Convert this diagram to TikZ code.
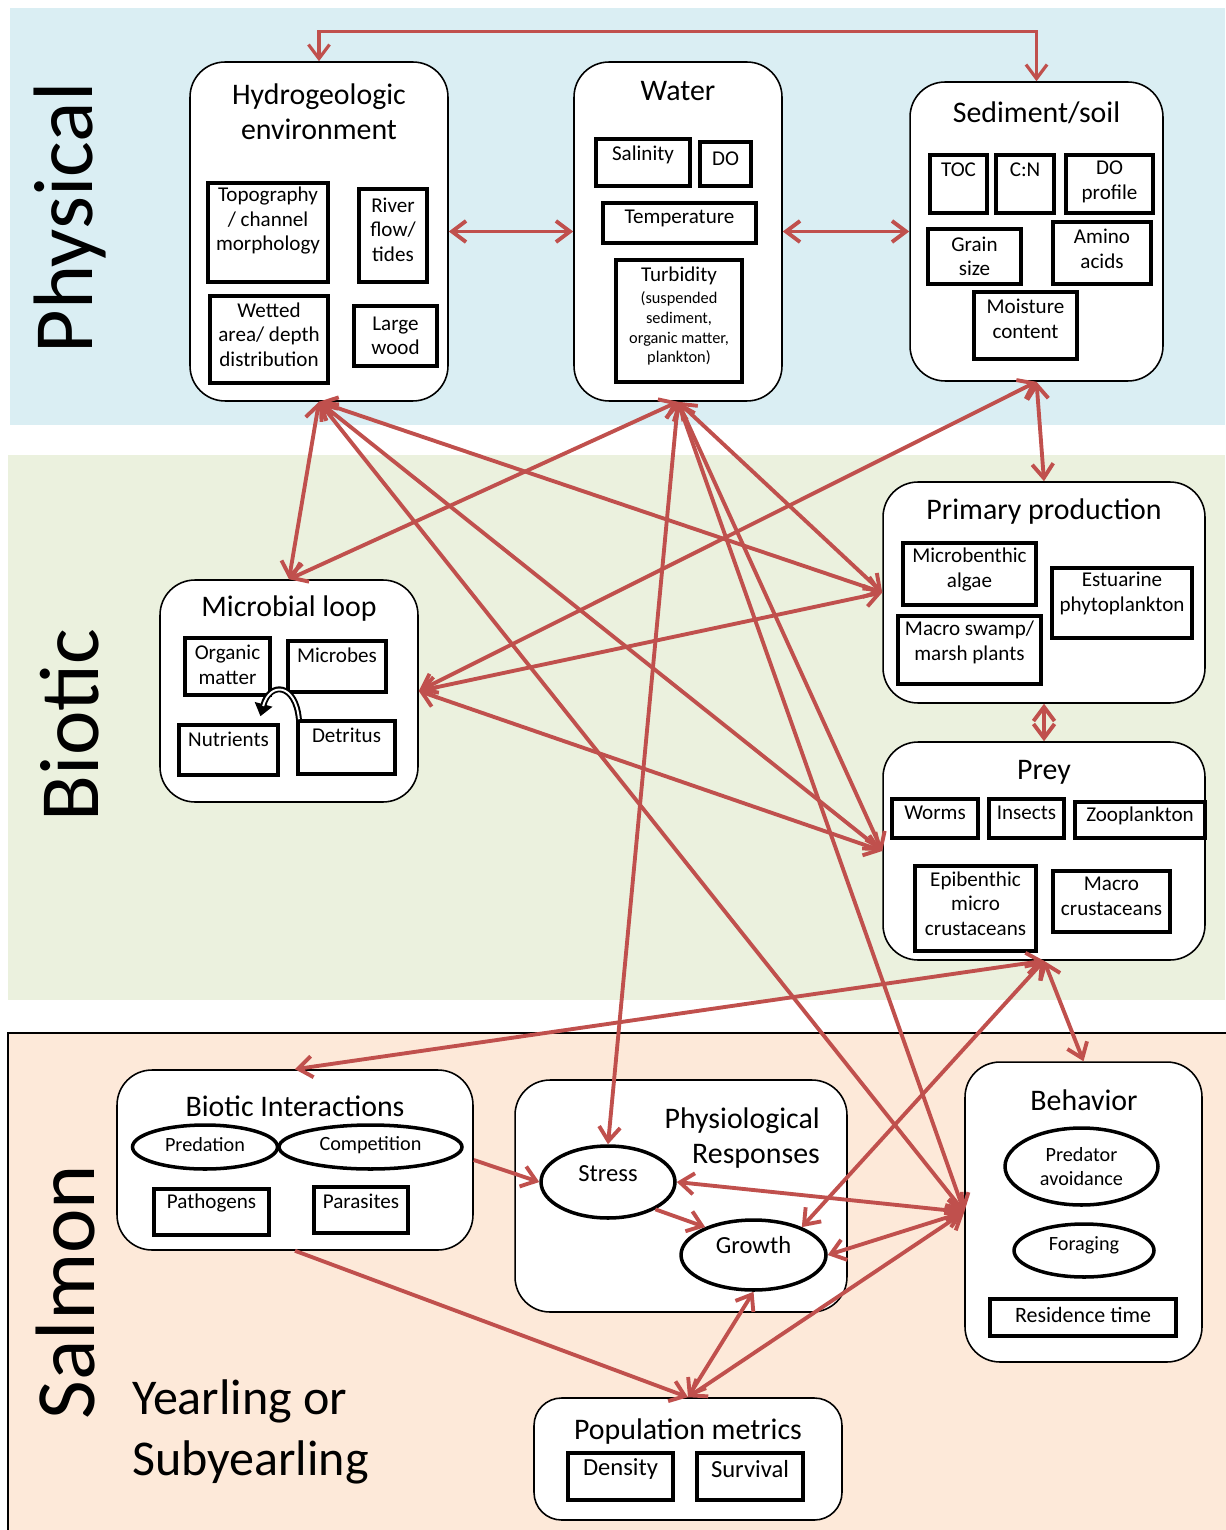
\documentclass[tikz,border=0pt]{standalone}
\usepackage{fontspec}
\setmainfont{Carlito}
\usetikzlibrary{shapes.geometric,arrows.meta}

\definecolor{physblue}{HTML}{DAEEF3}
\definecolor{bioticgreen}{HTML}{EBF1DE}
\definecolor{salmonpink}{HTML}{FDE9D9}
\definecolor{linkred}{HTML}{C0504D}

\begin{document}
\begin{tikzpicture}[x=0.02cm, y=-0.02cm, >={Straight Barb[length=8pt,width=12pt]}]
    \tikzstyle{panel} = [draw, fill=white, line width=0.9pt, rounded corners=0.7cm]
    \tikzstyle{head} = [font=\fontsize{17}{20}\selectfont, align=center]
    \tikzstyle{item} = [draw, fill=white, line width=2pt, inner sep=1.5pt, align=center, font=\fontsize{12}{14}\selectfont]
    \tikzstyle{oval} = [ellipse, draw, fill=white, line width=2pt, inner sep=1pt, align=center, font=\fontsize{11.5}{13.7}\selectfont]
    \tikzstyle{big} = [font=\fontsize{14}{16}\selectfont]
    \tikzstyle{link} = [draw=linkred, line width=2.2pt, <->]
    \tikzstyle{side} = [font=\fontsize{48}{56}\selectfont, rotate=90]

    \useasboundingbox (0,0) rectangle (1225,1530);
    % background bands
    \fill[physblue] (10,8) rectangle (1225,425);
    \fill[bioticgreen] (8,455) rectangle (1225,1000);
    \filldraw[fill=salmonpink, draw=black, line width=0.9pt] (8,1033) rectangle (1240,1545);

    \node[side] (physlabel) at (70,218) {Physical};
    \node[side] (biolabel) at (70,725) {Biotic};
    \node[side] (salmonlabel) at (66,1292) {Salmon};
    \node[align=left, anchor=west, font=\fontsize{28.5}{34.7}\selectfont] (agelabel) at (126,1432) {Yearling or\\Subyearling};

    % physical
    \node[panel, minimum width=5.16cm, minimum height=6.78cm] (hydro) at (319,231.5) {};
    \node[head] (hydrohead) at (319,112) {Hydrogeologic\\environment};
    \node[item, minimum width=2.4cm, minimum height=1.98cm, text depth=15.5pt] (topo) at (268,232.5) {Topography\\/ channel\\morphology};
    \node[item, minimum width=1.36cm, minimum height=1.86cm, text depth=6.8pt] (river) at (393,235.5) {River\\flow/\\tides};
    \node[item, minimum width=2.36cm, minimum height=1.74cm, text depth=5.7pt] (wetted) at (269,339.5) {Wetted\\area/ depth\\distribution};
    \node[item, minimum width=1.66cm, minimum height=1.2cm] (wood) at (395.5,336) {Large\\wood};

    \node[panel, minimum width=4.16cm, minimum height=6.78cm] (water) at (678,231.5) {};
    \node[head] (waterhead) at (678,91) {Water};
    \node[item, minimum width=1.88cm, minimum height=0.94cm, text depth=10.9pt] (sal) at (643,162.5) {Salinity};
    \node[item, minimum width=1.02cm, minimum height=0.88cm, text depth=5.7pt] (do) at (725.5,164) {DO};
    \node[item, minimum width=3.06cm, minimum height=0.8cm, text depth=7pt] (temp) at (679.5,223) {Temperature};
    \node[item, minimum width=2.52cm, minimum height=2.44cm, text depth=6.8pt, font=\fontsize{9.3}{11.2}\selectfont] (turb) at (679,321) {{\fontsize{12}{14}\selectfont Turbidity}\\[1.2pt](suspended\\sediment,\\organic matter,\\plankton)};

    \node[panel, minimum width=5.06cm, minimum height=5.98cm] (sed) at (1036.5,231.5) {};
    \node[head] (sedhead) at (1036.5,113) {Sediment/soil};
    \node[item, minimum width=1.14cm, minimum height=1.16cm, text depth=15.9pt] (toc) at (958.5,184) {TOC};
    \node[item, minimum width=1.16cm, minimum height=1.16cm, text depth=15.9pt] (cn) at (1025,184) {C:N};
    \node[item, minimum width=1.74cm, minimum height=1.16cm, text depth=4.7pt] (doprof) at (1109.5,184) {DO\\profile};
    \node[item, minimum width=1.86cm, minimum height=1.1cm] (grain) at (974.5,256.5) {Grain\\size};
    \node[item, minimum width=1.96cm, minimum height=1.24cm, text depth=4.6pt] (amino) at (1102,253) {Amino\\acids};
    \node[item, minimum width=2.06cm, minimum height=1.34cm, text depth=7.4pt] (moist) at (1025.5,325.5) {Moisture\\content};

    % biotic
    \node[panel, minimum width=5.16cm, minimum height=4.44cm] (mloop) at (289,691) {};
    \node[head] (mloophead) at (289,609) {Microbial loop};
    \node[item, minimum width=1.7cm, minimum height=1.14cm, text depth=2.3pt] (org) at (227.5,666.5) {Organic\\matter};
    \node[item, minimum width=1.96cm, minimum height=1.02cm, text depth=13.1pt] (mic) at (337,666.5) {Microbes};
    \node[item, minimum width=1.98cm, minimum height=1.0cm, text depth=12.5pt] (nut) at (228.5,750) {Nutrients};
    \node[item, minimum width=1.94cm, minimum height=1.06cm, text depth=14.2pt] (det) at (346.5,747.5) {Detritus};

    \node[panel, minimum width=6.44cm, minimum height=4.42cm] (pp) at (1044,592.5) {};
    \node[head] (pphead) at (1044,512) {Primary production};
    \node[item, minimum width=2.66cm, minimum height=1.24cm, text depth=7.5pt] (mba) at (969.5,574) {Microbenthic\\algae};
    \node[item, minimum width=2.8cm, minimum height=1.4cm, text depth=12.6pt] (est) at (1122,603) {Estuarine\\phytoplankton};
    \node[item, minimum width=2.86cm, minimum height=1.36cm, text depth=10.9pt] (mac) at (969.5,650) {Macro swamp/\\marsh plants};

    \node[panel, minimum width=6.44cm, minimum height=4.36cm] (prey) at (1044,851) {};
    \node[head] (preyhead) at (1044,772) {Prey};
    \node[item, minimum width=1.72cm, minimum height=0.78cm, text depth=6.3pt] (worms) at (935,818.5) {Worms};
    \node[item, minimum width=1.5cm, minimum height=0.78cm, text depth=6.3pt] (insects) at (1026.5,818.5) {Insects};
    \node[item, minimum width=2.6cm, minimum height=0.72cm, text depth=7pt] (zoo) at (1140,820) {Zooplankton};
    \node[item, minimum width=2.42cm, minimum height=1.7cm, text depth=5.7pt] (epi) at (975.5,908.5) {Epibenthic\\micro\\crustaceans};
    \node[item, minimum width=2.34cm, minimum height=1.22cm, text depth=5.7pt] (macc) at (1111.5,901.5) {Macro\\crustaceans};

    % salmon
    \node[panel, minimum width=7.12cm, minimum height=3.6cm] (bi) at (295,1160) {};
    \node[head] (bihead) at (295,1106) {Biotic Interactions};
    \node[oval, minimum width=2.9cm, minimum height=0.88cm, text depth=3.4pt] (pred) at (205,1147) {Predation};
    \node[oval, minimum width=3.66cm, minimum height=0.88cm, text depth=4pt] (comp) at (370.5,1147) {Competition};
    \node[item, minimum width=2.3cm, minimum height=0.92cm, text depth=12.6pt] (path) at (211.5,1212) {Pathogens};
    \node[item, minimum width=1.88cm, minimum height=0.92cm, text depth=10.2pt] (para) at (361,1210) {Parasites};

    \node[panel, minimum width=6.64cm, minimum height=4.64cm] (phys) at (681,1196) {};
    \node[head, align=right, anchor=east] (physhead) at (826,1138) {Physiological\\Responses};
    \node[oval, big, minimum width=2.68cm, minimum height=1.44cm, text depth=9.1pt] (stress) at (608,1182) {Stress};
    \node[oval, big, minimum width=2.9cm, minimum height=1.4cm, text depth=11.4pt] (growth) at (753.5,1255) {Growth};

    \node[panel, minimum width=4.74cm, minimum height=6.0cm] (beh) at (1083.5,1212) {};
    \node[head] (behhead) at (1084,1100) {Behavior};
    \node[oval, minimum width=3.06cm, minimum height=1.54cm] (pav) at (1081.5,1166.5) {Predator\\avoidance};
    \node[oval, minimum width=2.8cm, minimum height=1.06cm, text depth=7.5pt] (forag) at (1084,1250.5) {Foraging};
    \node[item, minimum width=3.72cm, minimum height=0.74cm, text depth=2.8pt, font=\fontsize{12.5}{14}\selectfont] (res) at (1083,1317.5) {Residence time};

    \node[panel, rounded corners=0.55cm, minimum width=6.16cm, minimum height=2.44cm] (pm) at (688,1459) {};
    \node[head] (pmhead) at (688,1432) {Population metrics};
    \node[item, big, minimum width=2.1cm, minimum height=0.94cm, text depth=11.3pt] (dens) at (620.5,1476.5) {Density};
    \node[item, big, minimum width=2.12cm, minimum height=0.94cm, text depth=8.5pt] (surv) at (750,1476.5) {Survival};

    % loop inside the microbial box
    \draw[line width=3.4pt, -{Triangle[length=7pt,width=10pt]}] ([xshift=1.5pt]det.north west) to[out=95, in=75, looseness=2.4] ([xshift=-11pt,yshift=4pt]nut.north east);
    \draw[white, line width=1.1pt, shorten >=6pt] ([xshift=1.5pt]det.north west) to[out=95, in=75, looseness=2.4] ([xshift=-11pt,yshift=4pt]nut.north east);

    % links
    \draw[link, line width=1.8pt] (hydro.north) -- ++(0,-30) -| (sed.north);
    \draw[link] (hydro.east) -- (water.west);
    \draw[link] (water.east) -- (sed.west);
    \draw[link] (sed.south) -- (pp.north);
    \draw[link] (pp.south) -- (prey.north);
    \foreach \t in {mloop.north, pp.west, prey.west, beh.west}
      \draw[link] (hydro.south) -- (\t);
    \foreach \t in {mloop.north, pp.west, prey.west, beh.west, stress.north}
      \draw[link] (water.south) -- (\t);
    \foreach \s in {sed.south, pp.west, prey.west}
      \draw[link] (\s) -- (mloop.east);
    \foreach \t in {bi.north, beh.north, growth.30}
      \draw[link] (prey.south) -- (\t);
    \draw[link, ->] (bi.east) -- (stress.west);
    \draw[link, ->] (stress.-30) -- (growth.150);
    \draw[link] (beh.west) -- (stress.east);
    \draw[link] (beh.west) -- (growth.east);
    \foreach \s in {beh.west, growth.south}
      \draw[link] (\s) -- (pm.north);
    \draw[link, ->] (bi.south) -- (pm.north);
\end{tikzpicture}
\end{document}
